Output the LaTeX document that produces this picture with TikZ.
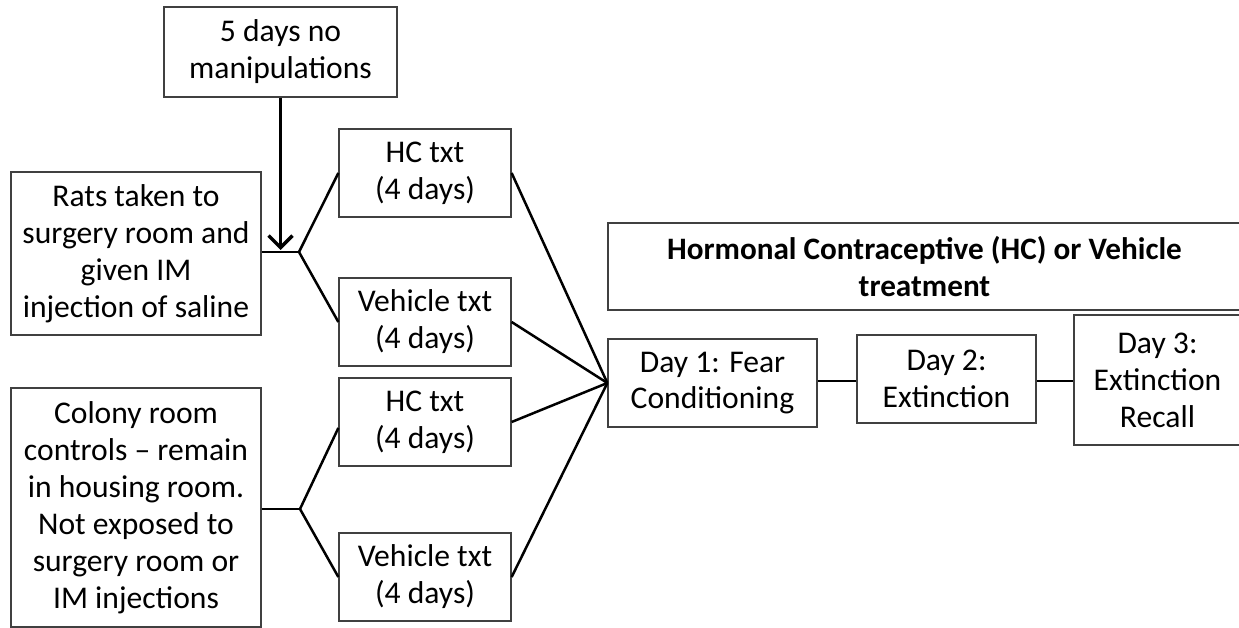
\documentclass[tikz,border=0pt]{standalone}
\usepackage{fontspec}
\setmainfont{Carlito}
\usetikzlibrary{arrows.meta}
\begin{document}
\begin{tikzpicture}[x=1pt,y=-1pt,
  box/.style={draw=black!75, line width=1.3pt, align=center, inner sep=0pt,
    font=\fontsize{31.6}{36.9}\selectfont},
  conn/.style={line width=2.5pt, black, line join=miter},
  arr/.style={line width=3.6pt, black, -{Straight Barb[length=12pt,width=24pt,line width=3.4pt]}}]
\useasboundingbox (0,0) rectangle (1239,628);
\clip (0,0) rectangle (1239,628);
% boxes
\node[box, minimum width=233pt, minimum height=90pt] (five) at (280.5,52) {5 days no\\manipulations};
\node[box, minimum width=250pt, minimum height=163pt] (rats) at (136,253.5) {Rats taken to\\surgery room and\\given IM\\injection of saline};
\node[box, minimum width=250pt, minimum height=239pt] (colony) at (136,507.5) {Colony room\\controls – remain\\in housing room.\\Not exposed to\\surgery room or\\IM injections};
\node[box, minimum width=172pt, minimum height=88pt] (hc1) at (425,173) {HC txt\\(4 days)};
\node[box, minimum width=172pt, minimum height=88pt] (veh1) at (425,322) {Vehicle txt\\(4 days)};
\node[box, minimum width=172pt, minimum height=88pt] (hc2) at (425,422) {HC txt\\(4 days)};
\node[box, minimum width=172pt, minimum height=88pt] (veh2) at (425,577) {Vehicle txt\\(4 days)};
\node[box, minimum width=633pt, minimum height=87pt, font=\fontsize{31.2}{36.9}\selectfont\bfseries] (horm) at (924.5,266.5) {Hormonal Contraceptive (HC) or Vehicle\\treatment};
\node[box, minimum width=209pt, minimum height=88pt] (day1) at (712.5,383) {Day 1: Fear\\Conditioning};
\node[box, minimum width=179pt, minimum height=88pt] (day2) at (946.5,379) {Day 2:\\Extinction};
\node[box, minimum width=167pt, minimum height=130pt] (day3) at (1157.5,380) {Day 3:\\Extinction\\Recall};
% junctions
\coordinate (j1) at (299,252);
\coordinate (j2) at (300,509);
\coordinate (tip) at (280.5,250);
\coordinate (dl) at (0,381);
% connectors
\draw[arr] (five.south) -- (tip);
\draw[conn] (rats.east |- j1) -- (j1);
\draw[conn] (j1) -- (hc1.west);
\draw[conn] (j1) -- (veh1.west);
\draw[conn] (colony.east |- j2) -- (j2);
\draw[conn] (j2) -- ([yshift=-6pt]hc2.west);
\draw[conn] (j2) -- (veh2.west);
\draw[conn] (hc1.east) -- (day1.west);
\draw[conn] (veh1.east) -- (day1.west);
\draw[conn] (hc2.east) -- (day1.west);
\draw[conn] (veh2.east) -- (day1.west);
\draw[conn] (day1.east |- dl) -- (day2.west |- dl);
\draw[conn] (day2.east |- dl) -- (day3.west |- dl);
\end{tikzpicture}
\end{document}
